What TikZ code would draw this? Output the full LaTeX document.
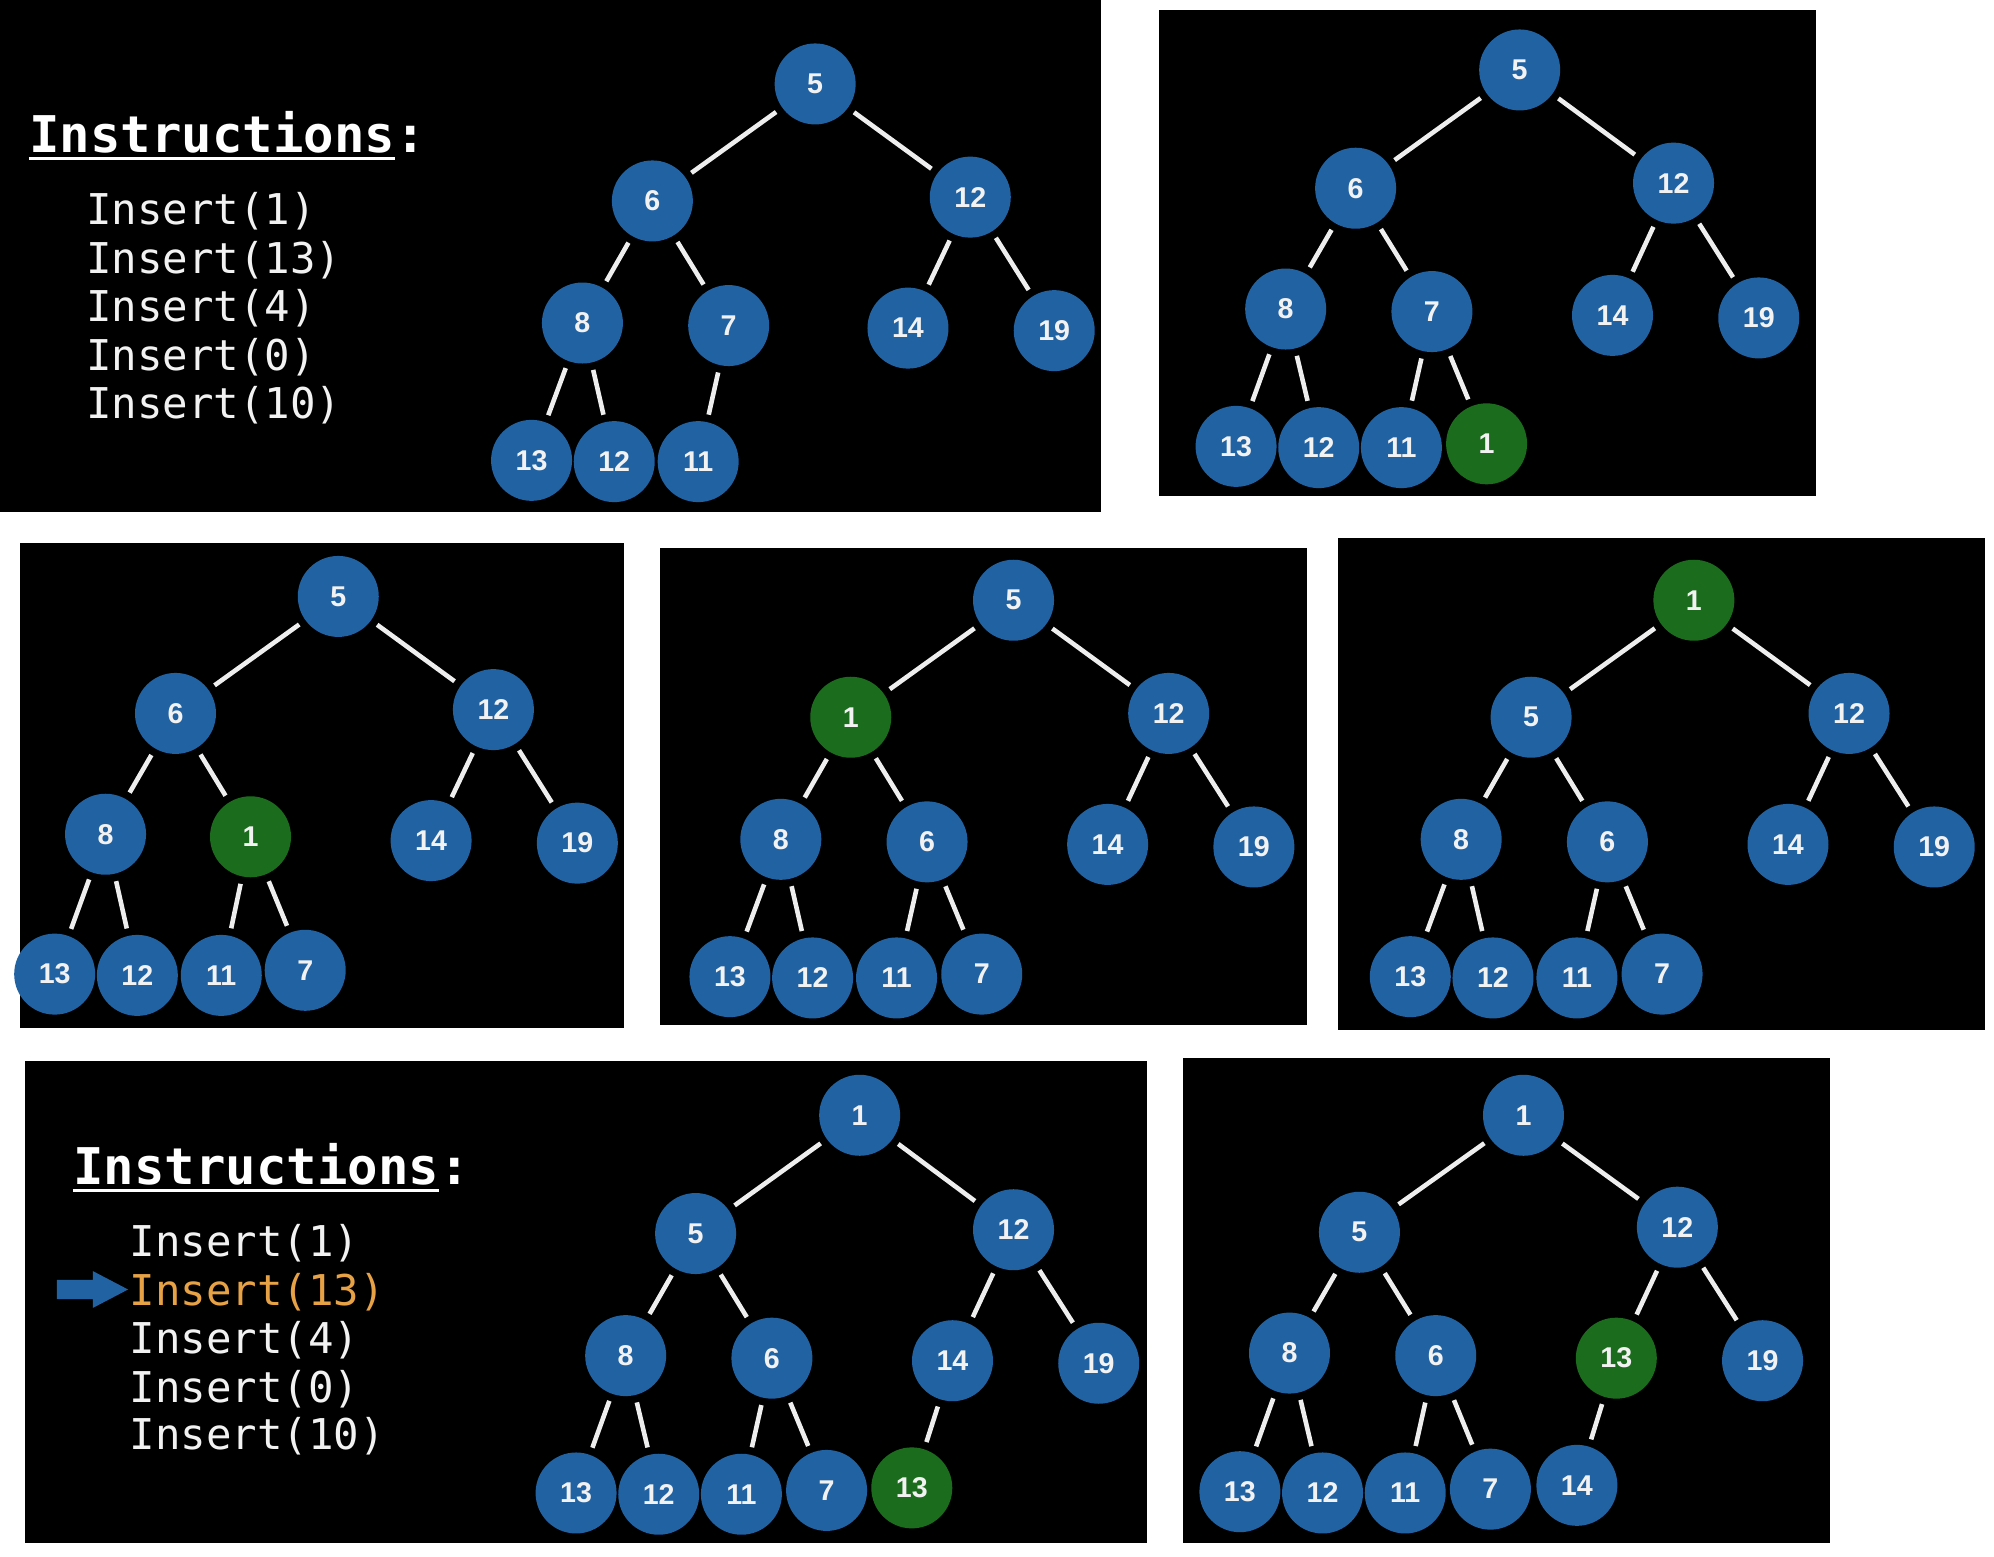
\documentclass[tikz,border=0pt]{standalone}
\usepackage{fontspec}
\setmainfont{Liberation Sans}
\newfontfamily\codefont{DejaVu Sans Mono}
\definecolor{nodeblue}{RGB}{33,98,163}
\definecolor{nodegreen}{RGB}{28,108,30}
\definecolor{instrorange}{RGB}{232,162,70}
\definecolor{edgewhite}{RGB}{238,238,238}
\definecolor{textwhite}{RGB}{242,242,242}
\begin{document}
\begin{tikzpicture}[x=0.63585pt,y=-0.63585pt,
 heapnode/.style={circle,fill=nodeblue,minimum size=40.5pt,inner sep=0pt,text=textwhite,font=\fontsize{14.3}{15}\selectfont\bfseries},
 newnode/.style={heapnode,fill=nodegreen},
 edge/.style={draw=edgewhite,line width=2.3pt,shorten <=3.6pt,shorten >=3.6pt},
 titletext/.style={anchor=base west,inner sep=0pt,text=white,font=\codefont\bfseries\fontsize{25.3}{28}\selectfont},
 instr/.style={anchor=base west,inner sep=0pt,text=textwhite,font=\codefont\fontsize{21.2}{24}\selectfont},
]
\useasboundingbox (0,0) rectangle (1568,1223.6);
\fill[white] (0,0) rectangle (1568,1223.6);
% panels
\fill[black] (0,0) rectangle (866,403);
\fill[black] (911,8) rectangle (1428,390);
\fill[black] (16,427) rectangle (491,808);
\fill[black] (519,431) rectangle (1028,806);
\fill[black] (1052,423) rectangle (1561,810);
\fill[black] (20,834) rectangle (902,1213);
\fill[black] (930,832) rectangle (1439,1213);

% ---------- panel 1 text ----------
\node[titletext] (t1) at (22.8,120.3) {Instructions};
\node[titletext,anchor=base west] (t1c) at (t1.base east) {:};
\draw[white,line width=1.5pt] ([yshift=-2.6pt]t1.base west) -- ([yshift=-2.6pt]t1.base east);
\node[instr] (a i1) at (67.5,176.9) {Insert(1)};
\node[instr] (a i2) at (67.5,215.1) {Insert(13)};
\node[instr] (a i3) at (67.5,253.2) {Insert(4)};
\node[instr] (a i4) at (67.5,291.0) {Insert(0)};
\node[instr] (a i5) at (67.5,328.7) {Insert(10)};

% ---------- panel 1 tree ----------
\node[heapnode] (a5) at (641,66) {5};
\node[heapnode] (a6) at (513,158) {6};
\node[heapnode] (a12) at (763,155) {12};
\node[heapnode] (a8) at (458,254) {8};
\node[heapnode] (a7) at (573,256) {7};
\node[heapnode] (a14) at (714,258) {14};
\node[heapnode] (a19) at (829,260) {19};
\node[heapnode] (a13) at (418,362) {13};
\node[heapnode] (a12b) at (483,363) {12};
\node[heapnode] (a11) at (549,363) {11};
\draw[edge] (a5) -- (a6); \draw[edge] (a5) -- (a12);
\draw[edge] (a6) -- (a8); \draw[edge] (a6) -- (a7);
\draw[edge] (a12) -- (a14); \draw[edge] (a12) -- (a19);
\draw[edge] (a8) -- (a13); \draw[edge] (a8) -- (a12b);
\draw[edge] (a7) -- (a11);

% ---------- panel 2 ----------
\node[heapnode] (b5) at (1195,55) {5};
\node[heapnode] (b6) at (1066,148) {6};
\node[heapnode] (b12) at (1316,144) {12};
\node[heapnode] (b8) at (1011,243) {8};
\node[heapnode] (b7) at (1126,245) {7};
\node[heapnode] (b14) at (1268,248) {14};
\node[heapnode] (b19) at (1383,250) {19};
\node[heapnode] (b13) at (972,351) {13};
\node[heapnode] (b12b) at (1037,352) {12};
\node[heapnode] (b11) at (1102,352) {11};
\node[newnode] (b1) at (1169,349) {1};
\draw[edge] (b5) -- (b6); \draw[edge] (b5) -- (b12);
\draw[edge] (b6) -- (b8); \draw[edge] (b6) -- (b7);
\draw[edge] (b12) -- (b14); \draw[edge] (b12) -- (b19);
\draw[edge] (b8) -- (b13); \draw[edge] (b8) -- (b12b);
\draw[edge] (b7) -- (b11); \draw[edge] (b7) -- (b1);

% ---------- panel 3 ----------
\node[heapnode] (c5) at (266,469) {5};
\node[heapnode] (c6) at (138,561) {6};
\node[heapnode] (c12) at (388,558) {12};
\node[heapnode] (c8) at (83,656) {8};
\node[newnode] (c1) at (197,658) {1};
\node[heapnode] (c14) at (339,661) {14};
\node[heapnode] (c19) at (454,663) {19};
\node[heapnode] (c13) at (43,766) {13};
\node[heapnode] (c12b) at (108,767) {12};
\node[heapnode] (c11) at (174,767) {11};
\node[heapnode] (c7) at (240,763) {7};
\draw[edge] (c5) -- (c6); \draw[edge] (c5) -- (c12);
\draw[edge] (c6) -- (c8); \draw[edge] (c6) -- (c1);
\draw[edge] (c12) -- (c14); \draw[edge] (c12) -- (c19);
\draw[edge] (c8) -- (c13); \draw[edge] (c8) -- (c12b);
\draw[edge] (c1) -- (c11); \draw[edge] (c1) -- (c7);

% ---------- panel 4 ----------
\node[heapnode] (d5) at (797,472) {5};
\node[newnode] (d1) at (669,564) {1};
\node[heapnode] (d12) at (919,561) {12};
\node[heapnode] (d8) at (614,660) {8};
\node[heapnode] (d6) at (729,662) {6};
\node[heapnode] (d14) at (871,664) {14};
\node[heapnode] (d19) at (986,666) {19};
\node[heapnode] (d13) at (574,768) {13};
\node[heapnode] (d12b) at (639,769) {12};
\node[heapnode] (d11) at (705,769) {11};
\node[heapnode] (d7) at (772,766) {7};
\draw[edge] (d5) -- (d1); \draw[edge] (d5) -- (d12);
\draw[edge] (d1) -- (d8); \draw[edge] (d1) -- (d6);
\draw[edge] (d12) -- (d14); \draw[edge] (d12) -- (d19);
\draw[edge] (d8) -- (d13); \draw[edge] (d8) -- (d12b);
\draw[edge] (d6) -- (d11); \draw[edge] (d6) -- (d7);

% ---------- panel 5 ----------
\node[newnode] (e1) at (1332,472) {1};
\node[heapnode] (e5) at (1204,564) {5};
\node[heapnode] (e12) at (1454,561) {12};
\node[heapnode] (e8) at (1149,660) {8};
\node[heapnode] (e6) at (1264,662) {6};
\node[heapnode] (e14) at (1406,664) {14};
\node[heapnode] (e19) at (1521,666) {19};
\node[heapnode] (e13) at (1109,768) {13};
\node[heapnode] (e12b) at (1174,769) {12};
\node[heapnode] (e11) at (1240,769) {11};
\node[heapnode] (e7) at (1307,766) {7};
\draw[edge] (e1) -- (e5); \draw[edge] (e1) -- (e12);
\draw[edge] (e5) -- (e8); \draw[edge] (e5) -- (e6);
\draw[edge] (e12) -- (e14); \draw[edge] (e12) -- (e19);
\draw[edge] (e8) -- (e13); \draw[edge] (e8) -- (e12b);
\draw[edge] (e6) -- (e11); \draw[edge] (e6) -- (e7);

% ---------- panel 6 text ----------
\node[titletext] (t2) at (57.4,931.8) {Instructions};
\node[titletext,anchor=base west] (t2c) at (t2.base east) {:};
\draw[white,line width=1.5pt] ([yshift=-2.6pt]t2.base west) -- ([yshift=-2.6pt]t2.base east);
\node[instr] (f i1) at (101.5,988.4) {Insert(1)};
\node[instr,text=instrorange] (f i2) at (101.5,1026.2) {Insert(13)};
\node[instr] (f i3) at (101.5,1064.3) {Insert(4)};
\node[instr] (f i4) at (101.5,1102.5) {Insert(0)};
\node[instr] (f i5) at (101.5,1140.2) {Insert(10)};
\fill[nodeblue] (44.8,1006.5) -- (73,1006.5) -- (73,999.5) -- (100.7,1014) -- (73,1028.5) -- (73,1021.5) -- (44.8,1021.5) -- cycle;

% ---------- panel 6 tree ----------
\node[heapnode] (f1) at (676,877) {1};
\node[heapnode] (f5) at (547,970) {5};
\node[heapnode] (f12) at (797,967) {12};
\node[heapnode] (f8) at (492,1066) {8};
\node[heapnode] (f6) at (607,1068) {6};
\node[heapnode] (f14) at (749,1070) {14};
\node[heapnode] (f19) at (864,1072) {19};
\node[heapnode] (f13) at (453,1174) {13};
\node[heapnode] (f12b) at (518,1175) {12};
\node[heapnode] (f11) at (583,1175) {11};
\node[heapnode] (f7) at (650,1172) {7};
\node[newnode] (f13g) at (717,1170) {13};
\draw[edge] (f1) -- (f5); \draw[edge] (f1) -- (f12);
\draw[edge] (f5) -- (f8); \draw[edge] (f5) -- (f6);
\draw[edge] (f12) -- (f14); \draw[edge] (f12) -- (f19);
\draw[edge] (f8) -- (f13); \draw[edge] (f8) -- (f12b);
\draw[edge] (f6) -- (f11); \draw[edge] (f6) -- (f7);
\draw[edge] (f14) -- (f13g);

% ---------- panel 7 ----------
\node[heapnode] (g1) at (1198,877) {1};
\node[heapnode] (g5) at (1069,969) {5};
\node[heapnode] (g12) at (1319,965) {12};
\node[heapnode] (g8) at (1014,1064) {8};
\node[heapnode] (g6) at (1129,1066) {6};
\node[newnode] (g13g) at (1271,1068) {13};
\node[heapnode] (g19) at (1386,1070) {19};
\node[heapnode] (g13) at (975,1173) {13};
\node[heapnode] (g12b) at (1040,1174) {12};
\node[heapnode] (g11) at (1105,1174) {11};
\node[heapnode] (g7) at (1172,1171) {7};
\node[heapnode] (g14) at (1240,1168) {14};
\draw[edge] (g1) -- (g5); \draw[edge] (g1) -- (g12);
\draw[edge] (g5) -- (g8); \draw[edge] (g5) -- (g6);
\draw[edge] (g12) -- (g13g); \draw[edge] (g12) -- (g19);
\draw[edge] (g8) -- (g13); \draw[edge] (g8) -- (g12b);
\draw[edge] (g6) -- (g11); \draw[edge] (g6) -- (g7);
\draw[edge] (g13g) -- (g14);
\end{tikzpicture}
\end{document}
